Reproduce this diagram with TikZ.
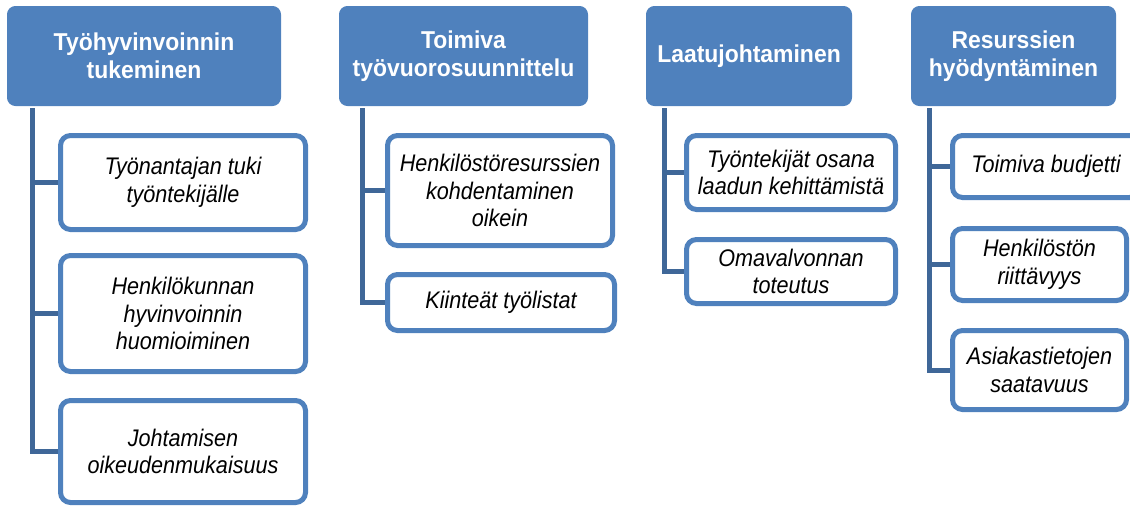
\documentclass[tikz,border=0pt]{standalone}
\usepackage{fontspec}
\setmainfont{Liberation Sans}
\newfontfamily\hdrfont[FakeStretch=0.94]{Liberation Sans}
\newfontfamily\itemfont[FakeStretch=0.9]{Liberation Sans}
\usetikzlibrary{backgrounds,calc}
\definecolor{accent}{HTML}{4F81BD}
\definecolor{linkblue}{HTML}{3F6798}
\tikzset{
  hdr/.style={rectangle, rounded corners=8pt, fill=accent, draw=accent, line width=1pt,
    text=white, align=center, inner sep=0pt,
    font=\hdrfont\fontsize{24.4}{28}\selectfont\bfseries},
  item/.style={rectangle, rounded corners=10pt, fill=white, draw=accent, line width=5pt,
    text=black, align=center, inner sep=0pt,
    font=\itemfont\fontsize{24}{27.5}\selectfont\itshape},
  conn/.style={draw=linkblue, line width=5pt, line join=miter}
}
\begin{document}
\begin{tikzpicture}[x=1pt, y=-1pt]
\useasboundingbox (0,0) rectangle (1130,506);
\clip (0,0) rectangle (1130,506);

% top-level headings
\node[hdr, minimum width=273pt, minimum height=99pt] (h1) at (144,56) {Työhyvinvoinnin\\tukeminen};
\node[hdr, minimum width=248pt, minimum height=99pt] (h2) at (463.5,56) {Toimiva\\työvuorosuunnittelu};
\node[hdr, minimum width=205pt, minimum height=99pt] (h3) at (749,56) {Laatujohtaminen};
\node[hdr, minimum width=204pt, minimum height=99pt] (h4) at (1013.5,56) {Resurssien\\hyödyntäminen};

% first column
\node[item, minimum width=245pt, minimum height=94pt] (c11) at (183,182.5) {Työnantajan tuki\\työntekijälle};
\node[item, minimum width=245pt, minimum height=116pt] (c12) at (183,313.5) {Henkilökunnan\\hyvinvoinnin\\huomioiminen};
\node[item, minimum width=245pt, minimum height=102pt] (c13) at (183,451.5) {Johtamisen\\oikeudenmukaisuus};

% second column
\node[item, minimum width=225pt, minimum height=110pt] (c21) at (500,190.5) {Henkilöstöresurssien\\kohdentaminen\\oikein};
\node[item, minimum width=227pt, minimum height=56pt] (c22) at (501,302.5) {Kiinteät työlistat};

% third column
\node[item, minimum width=209pt, minimum height=74pt] (c31) at (791,172.5) {Työntekijät osana\\laadun kehittämistä};
\node[item, minimum width=209pt, minimum height=64pt] (c32) at (791,271.5) {Omavalvonnan\\toteutus};

% fourth column
\node[item, minimum width=187pt, minimum height=62pt] (c41) at (1046,166.5) {Toimiva budjetti};
\node[item, minimum width=174pt, minimum height=72pt] (c42) at (1039.5,264.5) {Henkilöstön\\riittävyys};
\node[item, minimum width=174pt, minimum height=79pt] (c43) at (1039.5,370) {Asiakastietojen\\saatavuus};

% trunk start points below each heading
\coordinate (t1) at ($(h1.south west)+(25.5,2)$);
\coordinate (t2) at ($(h2.south west)+(23,2)$);
\coordinate (t3) at ($(h3.south west)+(18,2)$);
\coordinate (t4) at ($(h4.south west)+(18,2)$);

\begin{scope}[on background layer]
  \draw[conn] (t1) |- (c13.west);
  \draw[conn] (t1 |- c11.west) -- (c11.west);
  \draw[conn] (t1 |- c12.west) -- (c12.west);

  \draw[conn] (t2) |- (c22.west);
  \draw[conn] (t2 |- c21.west) -- (c21.west);

  \draw[conn] (t3) |- (c32.west);
  \draw[conn] (t3 |- c31.west) -- (c31.west);

  \draw[conn] (t4) |- (c43.west);
  \draw[conn] (t4 |- c41.west) -- (c41.west);
  \draw[conn] (t4 |- c42.west) -- (c42.west);
\end{scope}
\end{tikzpicture}
\end{document}
